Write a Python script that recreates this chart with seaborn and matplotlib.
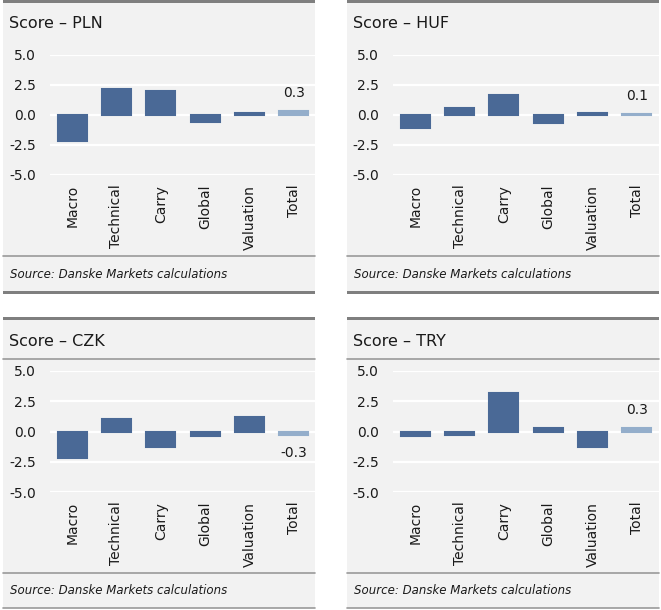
import matplotlib
matplotlib.use("Agg")
import matplotlib.pyplot as plt
from matplotlib.patches import Rectangle
from matplotlib.lines import Line2D
import seaborn as sns
import pandas as pd

sns.set_theme(style="white")
plt.rcParams['font.family'] = ['DejaVu Sans']

categories = ["Macro", "Technical", "Carry", "Global", "Valuation", "Total"]
pln = [-2.2, 2.2, 2.0, -0.6, 0.15, 0.3]
huf = [-1.1, 0.6, 1.7, -0.7, 0.15, 0.1]
czk = [-2.2, 1.0, -1.3, -0.4, 1.2, -0.3]
try_ = [-0.4, -0.3, 3.2, 0.25, -1.3, 0.3]
titles = ["Score – PLN", "Score – HUF", "Score – CZK", "Score – TRY"]
yticks = [5.0, 2.5, 0.0, -2.5, -5.0]
source = "Source: Danske Markets calculations"

DARK = "#4a6996"
LIGHT = "#94aecb"
BG = "#f2f2f2"
BORDER = "#7f7f7f"
THIN = "#9a9a9a"

W, H = 661, 610
fig = plt.figure(figsize=(W / 100, H / 100), dpi=100)
fig.patch.set_facecolor("white")


def fx(x):
    return x / W


def fy(y):
    return 1 - y / H


def rect(x0, y0, x1, y1, color, z=-2):
    fig.patches.append(Rectangle((fx(x0), fy(y1)), fx(x1) - fx(x0), fy(y0) - fy(y1),
                                 transform=fig.transFigure, facecolor=color,
                                 edgecolor="none", zorder=z))


def hline(x0, x1, y, color, lw):
    fig.lines.append(Line2D([fx(x0), fx(x1)], [fy(y), fy(y)], transform=fig.transFigure,
                            color=color, linewidth=lw, zorder=-1))


palette = {c: (LIGHT if c == "Total" else DARK) for c in categories}

panels = [
    dict(x0=3, x1=315, top=0, bot=293, ty=24, tsep=None, ssep=256, sy=274, thick=True,
         at=55, ab=175, al=50, ar=316, data=pln, title=titles[0]),
    dict(x0=347, x1=659, top=0, bot=293, ty=24, tsep=None, ssep=256, sy=274, thick=True,
         at=55, ab=175, al=393, ar=659, data=huf, title=titles[1]),
    dict(x0=3, x1=315, top=317, bot=608, ty=341, tsep=359, ssep=573, sy=591, thick=False,
         at=371, ab=492, al=50, ar=316, data=czk, title=titles[2]),
    dict(x0=347, x1=659, top=317, bot=608, ty=341, tsep=359, ssep=573, sy=591, thick=False,
         at=371, ab=492, al=393, ar=659, data=try_, title=titles[3]),
]

for p in panels:
    rect(p["x0"], p["top"], p["x1"], p["bot"], BG)
    rect(p["x0"], p["top"], p["x1"], p["top"] + 3, BORDER, z=-1)
    if p["thick"]:
        rect(p["x0"], p["bot"] - 2, p["x1"], p["bot"] + 1, BORDER, z=-1)
    else:
        hline(p["x0"], p["x1"], p["bot"], THIN, 1.2)
    if p["tsep"] is not None:
        hline(p["x0"], p["x1"], p["tsep"], THIN, 1.2)
    hline(p["x0"], p["x1"], p["ssep"], THIN, 1.2)
    fig.text(fx(p["x0"] + 6), fy(p["ty"]), p["title"], fontsize=11.5, color="#1a1a1a",
             va="center", ha="left")
    fig.text(fx(p["x0"] + 7), fy(p["sy"]), source, fontsize=8.5, style="italic",
             color="#1a1a1a", va="center", ha="left")

    ax = fig.add_axes([fx(p["al"]), fy(p["ab"]), fx(p["ar"]) - fx(p["al"]),
                       fy(p["at"]) - fy(p["ab"])])
    ax.set_facecolor("none")
    df = pd.DataFrame({"cat": categories, "val": p["data"]})
    for y in yticks:
        ax.axhline(y, color="white", linewidth=1.6, zorder=0)
    sns.barplot(data=df, x="cat", y="val", hue="cat", palette=palette, order=categories,
                hue_order=categories, legend=False, width=0.66, ax=ax, saturation=1,
                linewidth=1.5, zorder=2)
    for patch, c in zip(ax.patches, categories):
        patch.set_edgecolor(palette[c])
    ax.set_ylim(-5, 5)
    ax.set_xlim(-0.5, 5.5)
    ax.set_yticks(yticks)
    ax.set_yticklabels([f"{v:.1f}" for v in yticks], fontsize=10, color="#1a1a1a")
    ax.set_xticks(range(len(categories)))
    ax.set_xticklabels(categories, rotation=90, fontsize=10, color="#1a1a1a")
    ax.tick_params(axis="y", length=0, pad=10)
    ax.tick_params(axis="x", length=0, pad=7)
    ax.set_xlabel("")
    ax.set_ylabel("")
    for s in ax.spines.values():
        s.set_visible(False)
    tot = p["data"][-1]
    ax.annotate(f"{tot:.1f}", xy=(5, tot), xytext=(0, 8 if tot >= 0 else -8),
                textcoords="offset points", ha="center",
                va="bottom" if tot >= 0 else "top", fontsize=10, color="#1a1a1a")

fig.savefig("out.png", dpi=100, facecolor="white")
